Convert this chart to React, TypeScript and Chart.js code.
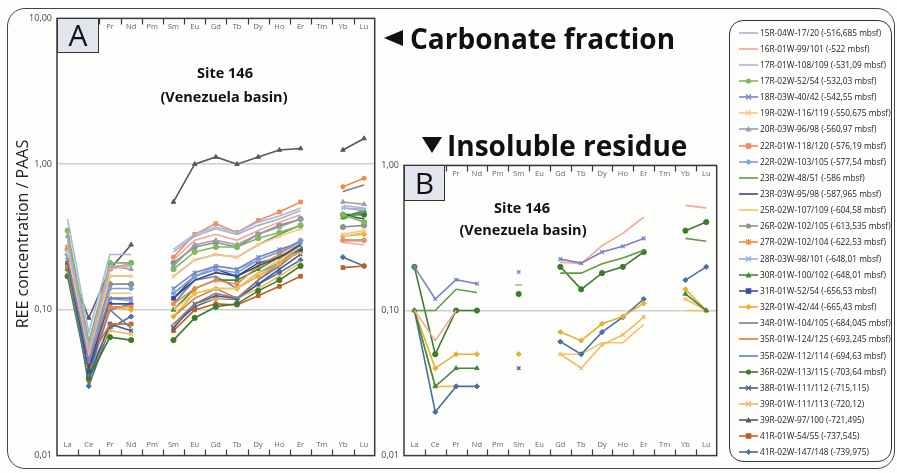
import React, { useEffect, useRef } from 'react';
import { Chart, registerables } from 'chart.js';
Chart.register(...registerables);

// ---------- data ----------
const categories = ['La', 'Ce', 'Pr', 'Nd', 'Pm', 'Sm', 'Eu', 'Gd', 'Tb', 'Dy', 'Ho', 'Er', 'Tm', 'Yb', 'Lu'];

const sampleNames = [
  '15R-04W-17/20 (-516,685 mbsf)',
  '16R-01W-99/101 (-522 mbsf)',
  '17R-01W-108/109 (-531,09 mbsf)',
  '17R-02W-52/54 (-532,03 mbsf)',
  '18R-03W-40/42 (-542,55 mbsf)',
  '19R-02W-116/119 (-550,675 mbsf)',
  '20R-03W-96/98 (-560,97 mbsf)',
  '22R-01W-118/120 (-576,19 mbsf)',
  '22R-02W-103/105 (-577,54 mbsf)',
  '23R-02W-48/51 (-586 mbsf)',
  '23R-03W-95/98 (-587,965 mbsf)',
  '25R-02W-107/109 (-604,58 mbsf)',
  '26R-02W-102/105 (-613,535 mbsf)',
  '27R-02W-102/104 (-622,53 mbsf)',
  '28R-03W-98/101 (-648,01 mbsf)',
  '30R-01W-100/102 (-648,01 mbsf)',
  '31R-01W-52/54 (-656,53 mbsf)',
  '32R-01W-42/44 (-665,43 mbsf)',
  '34R-01W-104/105 (-684,045 mbsf)',
  '35R-01W-124/125 (-693,245 mbsf)',
  '35R-02W-112/114 (-694,63 mbsf)',
  '36R-02W-113/115 (-703,64 mbsf)',
  '38R-01W-111/112 (-715,115)',
  '39R-01W-111/113 (-720,12)',
  '39R-02W-97/100 (-721,495)',
  '41R-01W-54/55 (-737,545)',
  '41R-02W-147/148 (-739,975)',
];

const sampleColors = [
  '#a7b3c9', '#f0a898', '#aab6e0', '#80b860', '#7a82c4', '#f7c68c', '#9d9da5', '#ef8e62', '#79a2d6',
  '#5f9a45', '#3d4a78', '#f4c36a', '#8f8f8f', '#ee8a3e', '#92b0e2', '#3f8a3c', '#3d4f9c', '#e3b232',
  '#7b7f8e', '#d27a3e', '#5c82c4', '#3e7a2c', '#4c5a92', '#f2b85e', '#58585c', '#b8612a', '#4a6fa2',
];

const sampleMarkers = [
  'none', 'none', 'none', 'circle', 'crossRot', 'crossRot', 'triangle', 'rect', 'rectRot',
  'none', 'none', 'none', 'circle', 'star', 'crossRot', 'triangle', 'rect', 'rectRot',
  'none', 'none', 'none', 'circle', 'crossRot', 'crossRot', 'triangle', 'rect', 'rectRot',
];

// Panel A: carbonate fraction (La..Lu, Pm and Tm not measured)
const carb15R04W = [0.30, 0.055, 0.20, 0.20, null, 0.25, 0.32, 0.36, 0.33, 0.38, 0.42, 0.48, null, 0.50, 0.48];
const carb16R01W = [0.28, 0.050, 0.19, 0.20, null, 0.22, 0.30, 0.33, 0.30, 0.35, 0.40, 0.45, null, 0.29, 0.28];
const carb17R01W = [0.42, 0.070, 0.24, 0.24, null, 0.26, 0.33, 0.37, 0.34, 0.40, 0.44, 0.50, null, 0.52, 0.50];
const carb17R02W = [0.35, 0.060, 0.21, 0.21, null, 0.19, 0.25, 0.27, 0.27, 0.31, 0.34, 0.38, null, 0.45, 0.40];
const carb18R03W = [0.22, 0.045, 0.12, 0.12, null, 0.14, 0.18, 0.20, 0.19, 0.23, 0.26, 0.29, null, null, null];
const carb19R02W = [0.25, 0.050, 0.17, 0.17, null, 0.17, 0.22, 0.24, 0.23, 0.28, 0.32, 0.36, null, 0.33, 0.35];
const carb20R03W = [0.32, 0.060, 0.20, 0.19, null, 0.20, 0.28, 0.30, 0.28, 0.33, 0.37, 0.42, null, 0.55, 0.53];
const carb22R01W = [0.27, 0.050, 0.19, 0.21, null, 0.23, 0.33, 0.39, 0.34, 0.41, 0.47, 0.55, null, 0.30, 0.30];
const carb22R02W = [0.24, 0.048, 0.14, 0.14, null, 0.13, 0.17, 0.19, 0.18, 0.22, 0.25, 0.30, null, 0.30, 0.30];
const carb23R02W = [0.28, 0.055, 0.17, 0.17, null, 0.17, 0.22, 0.24, 0.23, 0.28, 0.33, 0.38, null, 0.42, 0.47];
const carb23R03W = [0.21, 0.040, 0.12, 0.12, null, 0.12, 0.16, 0.18, 0.17, 0.20, 0.23, 0.28, null, 0.45, 0.42];
const carb25R02W = [0.22, 0.042, 0.13, 0.13, null, 0.10, 0.13, 0.14, 0.14, 0.18, 0.22, 0.27, null, 0.32, 0.34];
const carb26R02W = [0.26, 0.050, 0.15, 0.15, null, 0.21, 0.27, 0.29, 0.27, 0.33, 0.38, 0.42, null, 0.37, 0.38];
const carb27R02W = [0.20, 0.042, 0.105, 0.105, null, 0.11, 0.14, 0.16, 0.15, 0.20, 0.24, 0.30, null, 0.70, 0.80];
const carb28R03W = [0.23, 0.045, 0.12, 0.115, null, 0.13, 0.17, 0.20, 0.19, 0.22, 0.25, 0.28, null, 0.50, 0.49];
const carb30R01W = [0.19, 0.040, 0.15, 0.15, null, 0.10, 0.14, 0.16, 0.16, 0.19, 0.23, 0.27, null, 0.43, 0.48];
const carb31R01W = [0.20, 0.038, 0.11, 0.11, null, 0.12, 0.17, 0.19, 0.17, 0.21, 0.23, 0.26, null, null, null];
const carb32R01W = [0.19, 0.040, 0.105, 0.10, null, 0.09, 0.13, 0.14, 0.14, 0.17, 0.21, 0.25, null, 0.32, 0.33];
const carb34R01W = [0.21, 0.050, 0.10, 0.075, null, 0.08, 0.11, 0.13, 0.12, 0.16, 0.20, 0.26, null, 0.65, 0.72];
const carb35R01W = [0.20, 0.045, 0.08, 0.08, null, 0.09, 0.12, 0.14, 0.12, 0.16, 0.21, 0.27, null, null, null];
const carb35R02W = [0.18, 0.036, 0.10, 0.11, null, 0.11, 0.16, 0.17, 0.14, 0.18, 0.21, 0.25, null, 0.30, 0.30];
const carb36R02W = [0.17, 0.034, 0.065, 0.062, null, 0.062, 0.088, 0.105, 0.11, 0.135, 0.16, 0.20, null, 0.45, 0.45];
const carb38R01W = [0.23, 0.035, 0.08, 0.072, null, 0.075, 0.11, 0.125, 0.12, 0.15, 0.19, 0.24, null, null, null];
const carb39R01W = [0.18, 0.040, 0.072, 0.068, null, 0.078, 0.11, 0.12, 0.12, 0.14, 0.17, 0.21, null, null, null];
const carb39R02W = [0.21, 0.088, 0.19, 0.28, null, 0.55, 1.0, 1.12, 1.0, 1.12, 1.25, 1.28, null, 1.25, 1.5];
const carb41R01W = [0.21, 0.033, 0.08, 0.08, null, 0.072, 0.10, 0.11, 0.108, 0.125, 0.145, 0.17, null, 0.195, 0.20];
const carb41R02W = [0.24, 0.030, 0.075, 0.09, null, 0.078, 0.105, 0.12, 0.118, 0.15, 0.18, 0.22, null, 0.23, 0.20];

const carbonateSeries = [
  carb15R04W, carb16R01W, carb17R01W, carb17R02W, carb18R03W, carb19R02W, carb20R03W, carb22R01W, carb22R02W,
  carb23R02W, carb23R03W, carb25R02W, carb26R02W, carb27R02W, carb28R03W, carb30R01W, carb31R01W, carb32R01W,
  carb34R01W, carb35R01W, carb35R02W, carb36R02W, carb38R01W, carb39R01W, carb39R02W, carb41R01W, carb41R02W,
];

// Panel B: insoluble residue (only some samples)
const resid18R03W = [0.20, 0.12, 0.163, 0.153, null, 0.184, null, 0.226, 0.212, 0.253, 0.277, 0.314, null, null, null];
const resid16R01W = [0.10, 0.062, 0.10, null, null, null, null, 0.215, 0.21, 0.28, 0.34, 0.44, null, 0.53, 0.51];
const resid23R02W = [0.10, 0.10, 0.14, 0.133, null, 0.15, null, 0.181, 0.181, 0.21, 0.23, 0.26, null, 0.314, 0.30];
const resid36R02W = [0.20, 0.05, 0.10, 0.10, null, 0.13, null, 0.20, 0.14, 0.181, 0.20, 0.253, null, 0.355, 0.407];
const resid30R01W = [0.10, 0.03, 0.04, 0.04, null, null, null, null, null, null, null, null, null, 0.13, 0.10];
const resid32R01W = [0.10, 0.04, 0.05, 0.05, null, 0.05, null, 0.071, 0.062, 0.081, 0.091, 0.112, null, 0.14, 0.10];
const resid41R02W = [0.10, 0.02, 0.03, 0.03, null, null, null, 0.061, 0.05, 0.071, 0.09, 0.12, null, 0.162, 0.20];
const resid38R01W = [null, null, null, null, null, 0.04, null, null, null, null, null, null, null, null, null];
const resid39R01W = [0.10, 0.03, 0.03, null, null, null, null, 0.05, 0.04, 0.058, 0.068, 0.09, null, 0.12, 0.10];
const resid25R02W = [null, null, null, null, null, null, null, 0.05, 0.05, 0.06, 0.06, 0.08, null, 0.10, 0.10];

const residueSampleIndex = [4, 1, 9, 21, 15, 17, 26, 22, 23, 11];
const residueSeries = [
  resid18R03W, resid16R01W, resid23R02W, resid36R02W, resid30R01W, resid32R01W, resid41R02W, resid38R01W,
  resid39R01W, resid25R02W,
];

const yTicksA = [0.01, 0.1, 1, 10];
const yTicksB = [0.01, 0.1, 1];
const gridValues = [0.1, 1];

// ---------- helpers ----------
const FONT = '"Open Sans", "DejaVu Sans", sans-serif';

function isolated(arr: (number | null)[], i: number) {
  return arr[i] != null && (i === 0 || arr[i - 1] == null) && (i === arr.length - 1 || arr[i + 1] == null);
}

function makeDataset(sampleIdx: number, values: (number | null)[]) {
  const color = sampleColors[sampleIdx];
  const marker = sampleMarkers[sampleIdx];
  const noMarker = marker === 'none';
  return {
    label: sampleNames[sampleIdx],
    data: values,
    borderColor: color,
    backgroundColor: color,
    borderWidth: 1.6,
    pointStyle: noMarker ? 'line' : marker,
    pointRadius: noMarker ? values.map((_, i) => (isolated(values, i) ? 3.5 : 0)) : 2.6,
    pointBorderWidth: marker === 'crossRot' || marker === 'star' ? 1.3 : 1,
    pointBorderColor: color,
    pointBackgroundColor: color,
    spanGaps: false,
    tension: 0,
  };
}

const panelPlugin = {
  id: 'panelDecor',
  afterDatasetsDraw(chart: any) {
    const { ctx, chartArea: a, scales } = chart;
    const x = scales.x;
    ctx.save();
    ctx.strokeStyle = '#3a3a3a';
    ctx.lineWidth = 1.5;
    ctx.strokeRect(a.left, a.top, a.right - a.left, a.bottom - a.top);
    ctx.lineWidth = 1.2;
    for (let i = 0; i < categories.length - 1; i++) {
      const xp = Math.round((x.getPixelForValue(i) + x.getPixelForValue(i + 1)) / 2) + 0.5;
      ctx.beginPath();
      ctx.moveTo(xp, a.bottom);
      ctx.lineTo(xp, a.bottom - 6);
      ctx.moveTo(xp, a.top);
      ctx.lineTo(xp, a.top + 6);
      ctx.stroke();
    }
    ctx.fillStyle = '#666';
    ctx.font = '7.5px ' + FONT;
    ctx.textAlign = 'center';
    ctx.textBaseline = 'middle';
    categories.forEach((c, i) => {
      const xp = x.getPixelForValue(i);
      ctx.fillText(c, xp, a.bottom - 11);
      ctx.fillText(c, xp, a.top + 8);
    });
    ctx.restore();
  },
};

function makeConfig(datasets: any[], ticks: number[], yWidth: number, padding: any) {
  return {
    type: 'line',
    data: { labels: categories, datasets },
    plugins: [panelPlugin],
    options: {
      responsive: false,
      animation: false,
      events: [],
      layout: { padding },
      plugins: { legend: { display: false }, tooltip: { enabled: false } },
      scales: {
        x: { type: 'category', display: false, offset: true },
        y: {
          type: 'logarithmic',
          min: ticks[0],
          max: ticks[ticks.length - 1],
          afterBuildTicks: (axis: any) => {
            axis.ticks = ticks.map((v) => ({ value: v }));
          },
          afterFit: (scale: any) => {
            scale.width = yWidth;
          },
          ticks: {
            autoSkip: false,
            padding: 5,
            color: '#444',
            font: { size: 9, family: FONT },
            callback: (v: number) => Number(v).toFixed(2).replace('.', ','),
          },
          grid: {
            drawTicks: false,
            lineWidth: 1.5,
            color: (c: any) => (c.tick && gridValues.includes(c.tick.value) ? '#cfcfcf' : 'rgba(0,0,0,0)'),
          },
          border: { display: false },
        },
      },
    },
  };
}

function ChartCanvas({ config, style, width, height }: any) {
  const ref = useRef<HTMLCanvasElement>(null);
  useEffect(() => {
    const chart = new Chart(ref.current as HTMLCanvasElement, config());
    return () => chart.destroy();
  }, []);
  return <canvas ref={ref} width={width} height={height} style={{ position: 'absolute', width, height, ...style }} />;
}

function Marker({ kind, color }: { kind: string; color: string }) {
  const cx = 9.5, cy = 5;
  if (kind === 'circle') return <circle cx={cx} cy={cy} r={2.6} fill={color} />;
  if (kind === 'rect') return <rect x={cx - 2.8} y={cy - 2.8} width={5.6} height={5.6} fill={color} />;
  if (kind === 'rectRot')
    return <polygon points={`${cx},${cy - 3} ${cx + 3},${cy} ${cx},${cy + 3} ${cx - 3},${cy}`} fill={color} />;
  if (kind === 'triangle')
    return <polygon points={`${cx},${cy - 3} ${cx + 3},${cy + 2.4} ${cx - 3},${cy + 2.4}`} fill={color} />;
  if (kind === 'crossRot')
    return (
      <path d={`M${cx - 2.5} ${cy - 2.5} L${cx + 2.5} ${cy + 2.5} M${cx + 2.5} ${cy - 2.5} L${cx - 2.5} ${cy + 2.5}`} stroke={color} strokeWidth={1.2} />
    );
  if (kind === 'star')
    return (
      <path d={`M${cx - 2.5} ${cy - 2.5} L${cx + 2.5} ${cy + 2.5} M${cx + 2.5} ${cy - 2.5} L${cx - 2.5} ${cy + 2.5} M${cx} ${cy - 3} L${cx} ${cy + 3}`} stroke={color} strokeWidth={1.2} />
    );
  return null;
}

export default function App() {
  const configA = () =>
    makeConfig(
      carbonateSeries.map((vals, i) => makeDataset(i, vals)),
      yTicksA,
      40,
      { left: 9, top: 10, right: 5, bottom: 8 }
    );
  const configB = () =>
    makeConfig(
      residueSeries.map((vals, i) => makeDataset(residueSampleIndex[i], vals)),
      yTicksB,
      24,
      { left: 2, top: 10, right: 2, bottom: 8 }
    );

  const abs = (s: any) => ({ position: 'absolute', ...s });
  const boxStyle = (l: number, t: number, w: number, h: number) =>
    abs({
      left: l, top: t, width: w, height: h, boxSizing: 'border-box', background: '#e3e5ee',
      border: '1.5px solid #333', fontFamily: FONT, fontSize: 30, lineHeight: h - 3 + 'px', textAlign: 'center', color: '#111',
    });
  const siteStyle = (cx: number, cy: number) =>
    abs({ left: cx - 100, top: cy - 10, width: 200, textAlign: 'center', fontFamily: FONT, fontWeight: 700, fontSize: 14.5, lineHeight: '20px', color: '#111' });

  return (
    <div style={{ position: 'fixed', left: 0, top: 0, width: 897, height: 473, background: '#fdfdfb', overflow: 'hidden', fontFamily: FONT }}>
      <div style={abs({ left: 7, top: 8, width: 888, height: 461, boxSizing: 'border-box', border: '1.5px solid #444', borderRadius: 18 })} />

      <ChartCanvas config={configA} width={372} height={458} style={{ left: 8, top: 8 }} />
      <ChartCanvas config={configB} width={344} height={311} style={{ left: 378, top: 155 }} />

      <div style={boxStyle(57, 18, 42, 35)}>A</div>
      <div style={boxStyle(404, 165, 41, 36)}>B</div>

      <div style={siteStyle(225, 73)}>Site 146</div>
      <div style={siteStyle(224, 97)}>(Venezuela basin)</div>
      <div style={siteStyle(522, 208)}>Site 146</div>
      <div style={siteStyle(523, 230)}>(Venezuela basin)</div>

      <svg width={897} height={473} style={{ position: 'absolute', left: 0, top: 0, pointerEvents: 'none' }}>
        <polygon points="384,38 403,30 403,46" fill="#111" />
        <polygon points="422,137 442,137 432,153" fill="#111" />
      </svg>
      <div style={abs({ left: 410, top: 20, fontFamily: FONT, fontWeight: 700, fontSize: 28, lineHeight: '36px', color: '#111', whiteSpace: 'nowrap' })}>
        Carbonate fraction
      </div>
      <div style={abs({ left: 447, top: 127, fontFamily: FONT, fontWeight: 700, fontSize: 28, lineHeight: '36px', color: '#111', whiteSpace: 'nowrap' })}>
        Insoluble residue
      </div>

      <div
        style={abs({
          left: 22, top: 234, transform: 'translate(-50%, -50%) rotate(-90deg)', whiteSpace: 'nowrap',
          fontFamily: FONT, fontSize: 16, color: '#222',
        })}
      >
        REE concentration / PAAS
      </div>

      <div style={abs({ left: 729, top: 20, width: 163, height: 442, boxSizing: 'border-box', border: '1.5px solid #333', borderRadius: 14 })}>
        {sampleNames.map((name, i) => (
          <div key={name} style={abs({ left: 9, top: 4.5 + i * 16.15, height: 14, width: 155, whiteSpace: 'nowrap' })}>
            <svg width={20} height={10} style={{ position: 'absolute', left: 0, top: 2 }}>
              <line x1={0} y1={5} x2={19} y2={5} stroke={sampleColors[i]} strokeWidth={1.6} />
              <Marker kind={sampleMarkers[i]} color={sampleColors[i]} />
            </svg>
            <span style={{ position: 'absolute', left: 21, top: 0, fontSize: 8.3, lineHeight: '14px', color: '#222', fontFamily: FONT }}>
              {name}
            </span>
          </div>
        ))}
      </div>
    </div>
  );
}
